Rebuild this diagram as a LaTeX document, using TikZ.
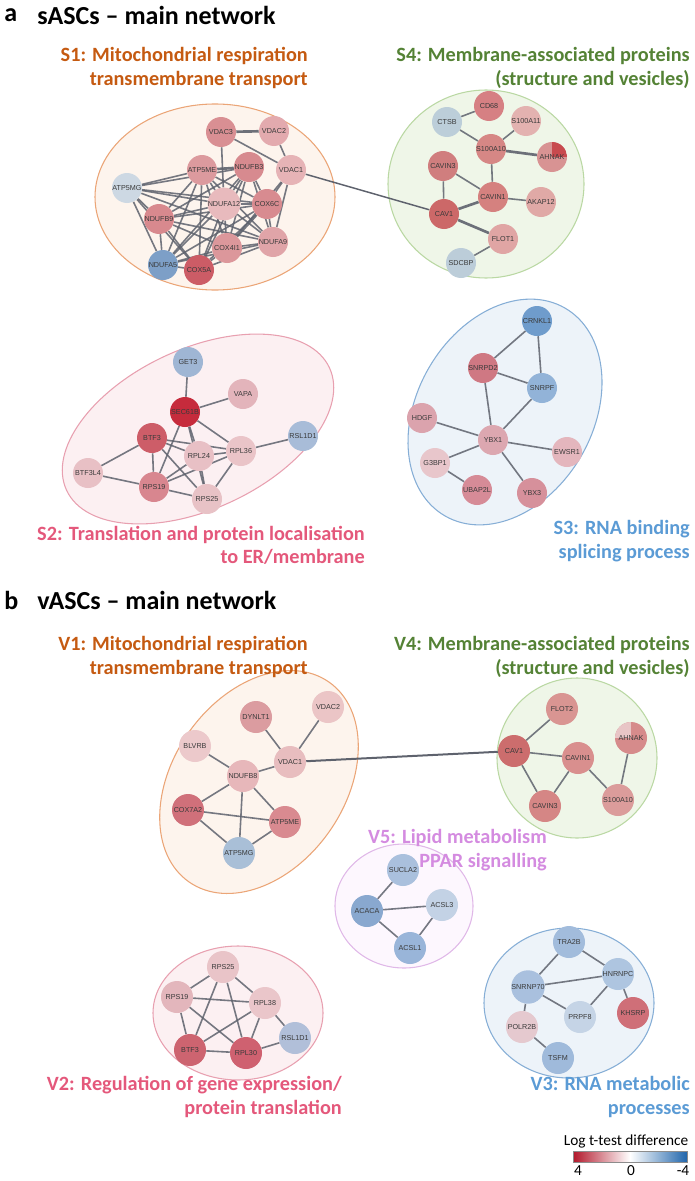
\documentclass[tikz,border=0pt]{standalone}
\usepackage{fontspec}
\setmainfont{Carlito}
\newfontfamily\genefont{Liberation Sans}
\usetikzlibrary{calc}
\pgfdeclarelayer{bg}
\pgfdeclarelayer{edgelayer}
\pgfsetlayers{bg,edgelayer,main}

\definecolor{edgegray}{HTML}{5E626D}
\definecolor{orStroke}{HTML}{EBA577}\definecolor{orFill}{HTML}{FDF4ED}
\definecolor{grStroke}{HTML}{BAD8A3}\definecolor{grFill}{HTML}{EFF6E8}
\definecolor{pkStroke}{HTML}{E8A0B0}\definecolor{pkFill}{HTML}{FCF0F2}
\definecolor{blStroke}{HTML}{86AED6}\definecolor{blFill}{HTML}{EDF3F9}
\definecolor{vtStroke}{HTML}{E0B8E8}\definecolor{vtFill}{HTML}{FDF7FE}
\definecolor{orTitle}{HTML}{C55A11}
\definecolor{grTitle}{HTML}{548235}
\definecolor{pkTitle}{HTML}{E4587B}
\definecolor{blTitle}{HTML}{5B9BD5}
\definecolor{vtTitle}{HTML}{D48BE0}
\definecolor{geneText}{HTML}{3A3A3A}
\definecolor{cbR}{HTML}{B2182B}
\definecolor{cbB}{HTML}{2166AC}

\newcommand\gn[5]{\definecolor{c#1}{HTML}{#4}\node[genenode,fill=c#1] (#1) at (#2,#3) {#5};}

\tikzset{
  genenode/.style={circle,inner sep=0pt,minimum size=22.5pt,text=geneText,
    font=\genefont\fontsize{5.4}{6}\selectfont},
  ed/.style={draw=edgegray,line width=1.2pt,draw opacity=0.85},
  edthick/.style={draw=edgegray,line width=2pt,draw opacity=0.9},
  ttl/.style={anchor=east,align=right,inner sep=0pt,font=\fontsize{15.2}{17.5}\selectfont\bfseries},
  hdr/.style={anchor=west,inner sep=0pt,font=\fontsize{19.5}{22}\selectfont\bfseries},
  lgd/.style={inner sep=0pt,font=\fontsize{11.5}{13}\selectfont},
  clus/.style={line width=0.8pt},
}

\begin{document}
\begin{tikzpicture}[x=0.75pt,y=-0.75pt]
\useasboundingbox (0,0) rectangle (695,1181);

% ---------------- Panel a ----------------
\node[hdr] (la) at (4,15) {a};
\node[hdr] (ha) at (37,15) {sASCs – main network};

\node[ttl,text=orTitle] (t1) at (308,68) {S1: Mitochondrial respiration\\transmembrane transport};
\node[ttl,text=grTitle] (t4) at (690,68) {S4: Membrane-associated proteins\\(structure and vesicles)};
\node[ttl,text=pkTitle] (t2) at (365,545) {S2: Translation and protein localisation\\to ER/membrane};
\node[ttl,text=blTitle] (t3) at (690,541) {S3: RNA binding\\splicing process};

\begin{pgfonlayer}{bg}
\draw[clus,draw=orStroke,fill=orFill] (215,197) ellipse [x radius=120,y radius=93];
\draw[clus,draw=grStroke,fill=grFill] (486,184) ellipse [x radius=98,y radius=94];
\draw[clus,draw=pkStroke,fill=pkFill,rotate around={25:(198,429)}] (198,429) ellipse [x radius=145,y radius=80];
\draw[clus,draw=blStroke,fill=blFill,rotate around={60:(505,412)}] (505,412) ellipse [x radius=120,y radius=88];
\end{pgfonlayer}

% S1
\gn{aVDACc}{221}{132}{D98F93}{VDAC3}
\gn{aVDACb}{274}{131}{E3AAAE}{VDAC2}
\gn{aVDACa}{291}{170}{E6B3B6}{VDAC1}
\gn{aATPME}{202}{170}{DC9A9E}{ATP5ME}
\gn{aNDUFBc}{249}{167}{D78A8F}{NDUFB3}
\gn{aATPMG}{127}{188}{CDD8E3}{ATP5MG}
\gn{aNDUFAl}{224}{204}{E8BABD}{NDUFA12}
\gn{aCOXc}{267}{204}{D88B90}{COX6C}
\gn{aNDUFBi}{159}{219}{D8898E}{NDUFB9}
\gn{aNDUFAi}{273}{242}{E0A4A8}{NDUFA9}
\gn{aCOXiv}{227}{248}{DC979B}{COX4I1}
\gn{aNDUFAv}{163}{265}{7D9FC7}{NDUFA5}
\gn{aCOXv}{199}{270}{CC5C66}{COX5A}

% S4
\gn{aCD}{489}{106}{D68083}{CD68}
\gn{aCTSB}{447}{122}{BCCED9}{CTSB}
\gn{aSak}{526}{121}{E3B2B0}{S100A11}
\gn{aSaj}{491}{149}{D68785}{S100A10}
\definecolor{cAHN}{HTML}{D89393}\definecolor{cAHNq}{HTML}{C84A4E}
\node[genenode,fill=cAHN,path picture={\fill[cAHNq] (path picture bounding box.center) rectangle (path picture bounding box.north east);}] (aAHNAK) at (552,157) {AHNAK};
\gn{aCAVINc}{443}{166}{D07E7E}{CAVIN3}
\gn{aCAVINa}{493}{197}{D5817F}{CAVIN1}
\gn{aAKAP}{541}{202}{E0A9A6}{AKAP12}
\gn{aCAV}{444}{214}{CC6868}{CAV1}
\gn{aFLOT}{503}{239}{E0A5A4}{FLOT1}
\gn{aSDCBP}{461}{263}{BCCDD9}{SDCBP}

% S2
\gn{aGET}{188}{362}{9FB6D4}{GET3}
\gn{aVAPA}{243}{394}{E3B4BB}{VAPA}
\gn{aSEC}{185}{412}{C62B3C}{SEC61B}
\gn{aBTF}{152}{438}{CD5D68}{BTF3}
\gn{aRSL}{303}{436}{A8BCD8}{RSL1D1}
\gn{aRPLxxxvi}{241}{451}{EAC4C8}{RPL36}
\gn{aRPLxxiv}{199}{456}{E8C0C5}{RPL24}
\gn{aBTFL}{88}{473}{E8C0C5}{BTF3L4}
\gn{aRPSxix}{154}{487}{D8868F}{RPS19}
\gn{aRPSxxv}{207}{499}{E8C2C6}{RPS25}

% S3
\gn{aCRNKL}{537}{321}{6F9CCC}{CRNKL1}
\gn{aSNRPD}{483}{368}{CF7883}{SNRPD2}
\gn{aSNRPF}{542}{388}{92B3D8}{SNRPF}
\gn{aHDGF}{422}{418}{DBA3AD}{HDGF}
\gn{aYBXa}{493}{440}{DCA7B0}{YBX1}
\gn{aEWSR}{567}{452}{E4B6BD}{EWSR1}
\gn{aGBP}{435}{463}{E8C6CB}{G3BP1}
\gn{aUBAP}{477}{490}{D68B97}{UBAP2L}
\gn{aYBXc}{532}{493}{D6909B}{YBX3}

\begin{pgfonlayer}{edgelayer}
\foreach \u/\v in {aVDACb/aVDACa,aVDACc/aVDACa,aVDACc/aNDUFAl,aVDACa/aCOXc,aVDACa/aNDUFAi,aVDACa/aCOXiv,
  aATPMG/aATPME,aATPMG/aNDUFBc,aATPMG/aNDUFAl,aATPMG/aCOXc,aATPMG/aNDUFBi,aATPMG/aNDUFAv,aATPMG/aCOXv,aATPMG/aNDUFAi,
  aATPME/aNDUFAl,aATPME/aCOXc,aATPME/aNDUFBi,aATPME/aNDUFAv,aATPME/aCOXv,aATPME/aCOXiv,aATPME/aNDUFAi,
  aNDUFBc/aNDUFAl,aNDUFBc/aCOXc,aNDUFBc/aNDUFBi,aNDUFBc/aNDUFAv,aNDUFBc/aCOXv,aNDUFBc/aCOXiv,aNDUFBc/aNDUFAi,
  aNDUFAl/aCOXc,aNDUFAl/aNDUFBi,aNDUFAl/aNDUFAv,aNDUFAl/aCOXv,aNDUFAl/aCOXiv,aNDUFAl/aNDUFAi,
  aCOXc/aNDUFBi,aCOXc/aNDUFAv,aCOXc/aCOXv,aCOXc/aCOXiv,aCOXc/aNDUFAi,
  aNDUFBi/aNDUFAv,aNDUFBi/aCOXv,aNDUFBi/aCOXiv,aNDUFBi/aNDUFAi,
  aNDUFAi/aCOXiv,aNDUFAi/aCOXv,aNDUFAi/aNDUFAv,aCOXiv/aCOXv,aCOXiv/aNDUFAv,aNDUFAv/aCOXv,
  aCTSB/aCD,aCTSB/aSaj,aSak/aSaj,aSaj/aCAVINa,aCAVINc/aCAVINa,aCAVINc/aCAV,aCAVINa/aAKAP,aFLOT/aSDCBP,
  aGET/aSEC,aSEC/aVAPA,aSEC/aRPLxxiv,aSEC/aRPLxxxvi,aSEC/aRPSxxv,aSEC/aRPSxix,
  aBTF/aRPLxxiv,aBTF/aRPLxxxvi,aBTF/aRPSxix,aBTF/aRPSxxv,aBTF/aBTFL,aBTFL/aRPSxix,
  aRPSxix/aRPLxxiv,aRPSxix/aRPLxxxvi,aRPSxix/aRPSxxv,aRPLxxiv/aRPLxxxvi,aRPLxxiv/aRPSxxv,aRPLxxxvi/aRPSxxv,aRPLxxxvi/aRSL,
  aCRNKL/aSNRPD,aCRNKL/aSNRPF,aSNRPD/aSNRPF,aSNRPD/aYBXa,aSNRPF/aYBXa,aHDGF/aYBXa,aYBXa/aEWSR,aYBXa/aGBP,aYBXa/aYBXc,aGBP/aUBAP}
  \draw[ed] (\u) -- (\v);
\foreach \u/\v in {aVDACc/aVDACb,aATPME/aNDUFBc,aSaj/aAHNAK,aCAV/aCAVINa,aCAV/aFLOT}
  \draw[edthick] (\u) -- (\v);
\draw[draw=edgegray,line width=1.1pt] (aVDACa) -- (aCAV);
\end{pgfonlayer}

% ---------------- Panel b ----------------
\node[hdr] (lb) at (4,600) {b};
\node[hdr] (hb) at (37,600) {vASCs – main network};

\node[ttl,text=orTitle] (tv1) at (308,657) {V1: Mitochondrial respiration\\transmembrane transport};
\node[ttl,text=grTitle] (tv4) at (690,657) {V4: Membrane-associated proteins\\(structure and vesicles)};
\node[ttl,text=vtTitle] (tv5) at (547,850) {V5: Lipid metabolism\\PPAR signalling};
\node[ttl,text=pkTitle] (tv2) at (342,1097) {V2: Regulation of gene expression/\\protein translation};
\node[ttl,text=blTitle] (tv3) at (690,1097) {V3: RNA metabolic\\processes};

\begin{pgfonlayer}{bg}
\draw[clus,draw=orStroke,fill=orFill,rotate around={55:(259,782)}] (259,782) ellipse [x radius=122,y radius=86];
\draw[clus,draw=grStroke,fill=grFill] (577,758) ellipse [x radius=80,y radius=80];
\draw[clus,draw=vtStroke,fill=vtFill] (404,906) ellipse [x radius=69,y radius=62];
\draw[clus,draw=pkStroke,fill=pkFill] (238,1013) ellipse [x radius=85,y radius=67];
\draw[clus,draw=blStroke,fill=blFill] (569,1003) ellipse [x radius=85,y radius=75];
\end{pgfonlayer}

\begin{scope}[genenode/.append style={minimum size=24pt}]
% V1
\gn{bVDACb}{328}{707}{EBC5C6}{VDAC2}
\gn{bDYN}{256}{717}{DB9CA0}{DYNLT1}
\gn{bBLV}{195}{746}{ECC9CB}{BLVRB}
\gn{bVDACa}{290}{762}{E8BDBF}{VDAC1}
\gn{bNDUFB}{243}{776}{E7B7BA}{NDUFB8}
\gn{bCOX}{188}{810}{D0707A}{COX7A2}
\gn{bATPME}{285}{822}{D98A90}{ATP5ME}
\gn{bATPMG}{239}{853}{A9BFD7}{ATP5MG}
% V4
\gn{bFLOT}{562}{709}{D99592}{FLOT2}
\definecolor{cbAHN}{HTML}{D68B8B}\definecolor{cbAHNq}{HTML}{E8C5C6}
\node[genenode,fill=cbAHN,path picture={\fill[cbAHNq] (path picture bounding box.center) rectangle (path picture bounding box.north west);}] (bAHNAK) at (631,738) {AHNAK};
\gn{bCAV}{514}{751}{CC6D6D}{CAV1}
\gn{bCAVINa}{578}{758}{D98F8E}{CAVIN1}
\gn{bCAVINc}{545}{806}{D58685}{CAVIN3}
\gn{bSaj}{618}{800}{DB9C9B}{S100A10}
% V5
\gn{bSUC}{403}{870}{AAC0DD}{SUCLA2}
\gn{bACACA}{367}{911}{89A8CF}{ACACA}
\gn{bACSLc}{442}{905}{C3D2E5}{ACSL3}
\gn{bACSLa}{410}{948}{99B5D9}{ACSL1}
% V2
\gn{bRPSxxv}{223}{967}{E9C4C8}{RPS25}
\gn{bRPSxix}{177}{997}{E3B6BC}{RPS19}
\gn{bRPL}{265}{1003}{EAC6CA}{RPL38}
\gn{bRSL}{295}{1038}{B1BFD9}{RSL1D1}
\gn{bBTF}{190}{1050}{CD6470}{BTF3}
\gn{bRPLxxx}{246}{1053}{CF6170}{RPL30}
% V3
\gn{bTRA}{569}{942}{A2BCDC}{TRA2B}
\gn{bHNR}{618}{974}{AEC5E0}{HNRNPC}
\gn{bSNR}{528}{987}{A9C0DE}{SNRNP70}
\gn{bKHS}{633}{1013}{CF6F78}{KHSRP}
\gn{bPRP}{580}{1017}{C5D4E6}{PRPF8}
\gn{bPOL}{522}{1027}{E5C9CF}{POLR2B}
\gn{bTSF}{558}{1058}{9FBADB}{TSFM}
\end{scope}

\begin{pgfonlayer}{edgelayer}
\foreach \u/\v in {bDYN/bVDACa,bVDACb/bVDACa,bBLV/bNDUFB,bNDUFB/bVDACa,bNDUFB/bCOX,bNDUFB/bATPMG,bNDUFB/bATPME,
  bCOX/bATPME,bCOX/bATPMG,bATPMG/bATPME,
  bFLOT/bCAV,bCAV/bCAVINa,bCAV/bCAVINc,bCAVINa/bCAVINc,bCAVINa/bSaj,bAHNAK/bSaj,
  bSUC/bACACA,bACACA/bACSLc,bACACA/bACSLa,bACSLc/bACSLa,
  bRPSxxv/bRPSxix,bRPSxxv/bRPL,bRPSxxv/bBTF,bRPSxxv/bRPLxxx,bRPSxix/bRPL,bRPSxix/bBTF,bRPSxix/bRPLxxx,
  bRPL/bBTF,bRPL/bRPLxxx,bRPL/bRSL,bBTF/bRPLxxx,bRPLxxx/bRSL,
  bTRA/bHNR,bTRA/bSNR,bSNR/bHNR,bHNR/bPRP,bHNR/bKHS,bSNR/bPRP,bSNR/bPOL,bPOL/bTSF}
  \draw[ed] (\u) -- (\v);
\draw[draw=edgegray,line width=1.5pt] (bVDACa) -- (bCAV);
\end{pgfonlayer}

% legend
\node[lgd] (lgt) at (626,1141) {Log t-test difference};
\node[inner sep=0pt,minimum width=85.5pt,minimum height=8pt,left color=cbR,right color=cbB,middle color=white,draw=black!45,line width=0.3pt] (cbar) at (630,1157) {};
\node[lgd] (lg4) at (578,1171) {4};
\node[lgd] (lg0) at (631,1171) {0};
\node[lgd] (lgm) at (683,1171) {-4};
\end{tikzpicture}
\end{document}
